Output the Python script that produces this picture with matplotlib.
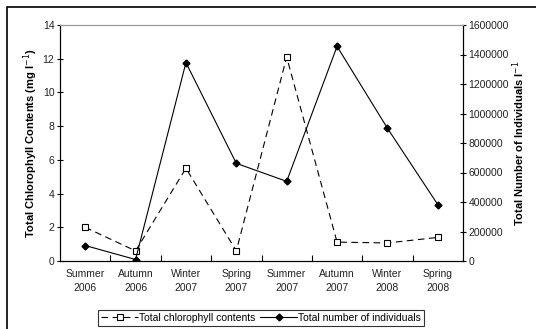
import matplotlib.pyplot as plt
from matplotlib.patches import Rectangle
from matplotlib.ticker import FuncFormatter

plt.rcParams['font.family'] = ['Liberation Sans', 'DejaVu Sans']

seasons = ['Summer\n2006', 'Autumn\n2006', 'Winter\n2007', 'Spring\n2007',
           'Summer\n2007', 'Autumn\n2007', 'Winter\n2008', 'Spring\n2008']
chlorophyll = [2.0, 0.6, 5.5, 0.6, 12.1, 1.12, 1.07, 1.4]
individuals = [105000, 10000, 1345000, 662000, 540000, 1455000, 900000, 382000]

fig = plt.figure(figsize=(5.36, 3.29), dpi=100)
ax = fig.add_axes([60 / 536, 1 - 261 / 329, 403 / 536, 236 / 329])
ax2 = ax.twinx()

x = list(range(len(seasons)))
l1, = ax.plot(x, chlorophyll, color='black', lw=0.8, ls=(0, (6, 4)),
              marker='s', ms=4.5, mfc='white', mec='black', mew=0.8)
l2, = ax2.plot(x, individuals, color='black', lw=0.8, marker='D', ms=3.5,
               mfc='black', mec='black')

ax.set_xlim(-0.5, 7.5)
ax.set_ylim(0, 14)
ax.set_yticks(range(0, 15, 2))
ax2.set_ylim(0, 1600000)
ax2.set_yticks(range(0, 1600001, 200000))
ax2.yaxis.set_major_formatter(FuncFormatter(lambda v, p: f'{int(v)}'))

ax.set_xticks([i - 0.5 for i in range(1, 8)])
ax.set_xticklabels([])
ax.tick_params(axis='x', direction='in', length=4, width=0.8)
for i, s in enumerate(seasons):
    ax.text(i, -0.5, s, ha='center', va='top', fontsize=7.5,
            linespacing=1.45, color='#222222')

ax.tick_params(axis='y', direction='inout', length=4, width=0.8,
               labelsize=7.5, pad=2, labelcolor='#222222')
ax2.tick_params(axis='y', direction='inout', length=4, width=0.8,
                labelsize=7.5, pad=2, labelcolor='#222222')

for a in (ax, ax2):
    a.spines['top'].set_color('#999999')
    a.spines['left'].set_linewidth(0.8)
    a.spines['right'].set_linewidth(0.8)
    a.spines['bottom'].set_linewidth(0.8)

ax.set_ylabel('Total Chlorophyll Contents (mg l$^{-1}$)', fontsize=8,
              fontweight='bold', labelpad=2)
ax2.set_ylabel('Total Number of Individuals l$^{-1}$', fontsize=8,
               fontweight='bold', labelpad=1)

leg = fig.legend([l1, l2], ['Total chlorophyll contents', 'Total number of individuals'],
                 loc='center', bbox_to_anchor=(261 / 536, 1 - 318 / 329),
                 ncol=2, fontsize=7.5, frameon=True, fancybox=False,
                 handlelength=3.6, columnspacing=0.4, handletextpad=0.1,
                 borderpad=0.3, borderaxespad=0)
leg.get_frame().set_edgecolor('black')
leg.get_frame().set_linewidth(0.8)

fig.patches.append(Rectangle((7 / 536, -0.1), 1.1, 1 - 7 / 329 + 0.1,
                             transform=fig.transFigure, fill=False,
                             edgecolor='black', lw=1.2))

fig.savefig('out.png', dpi=100)
